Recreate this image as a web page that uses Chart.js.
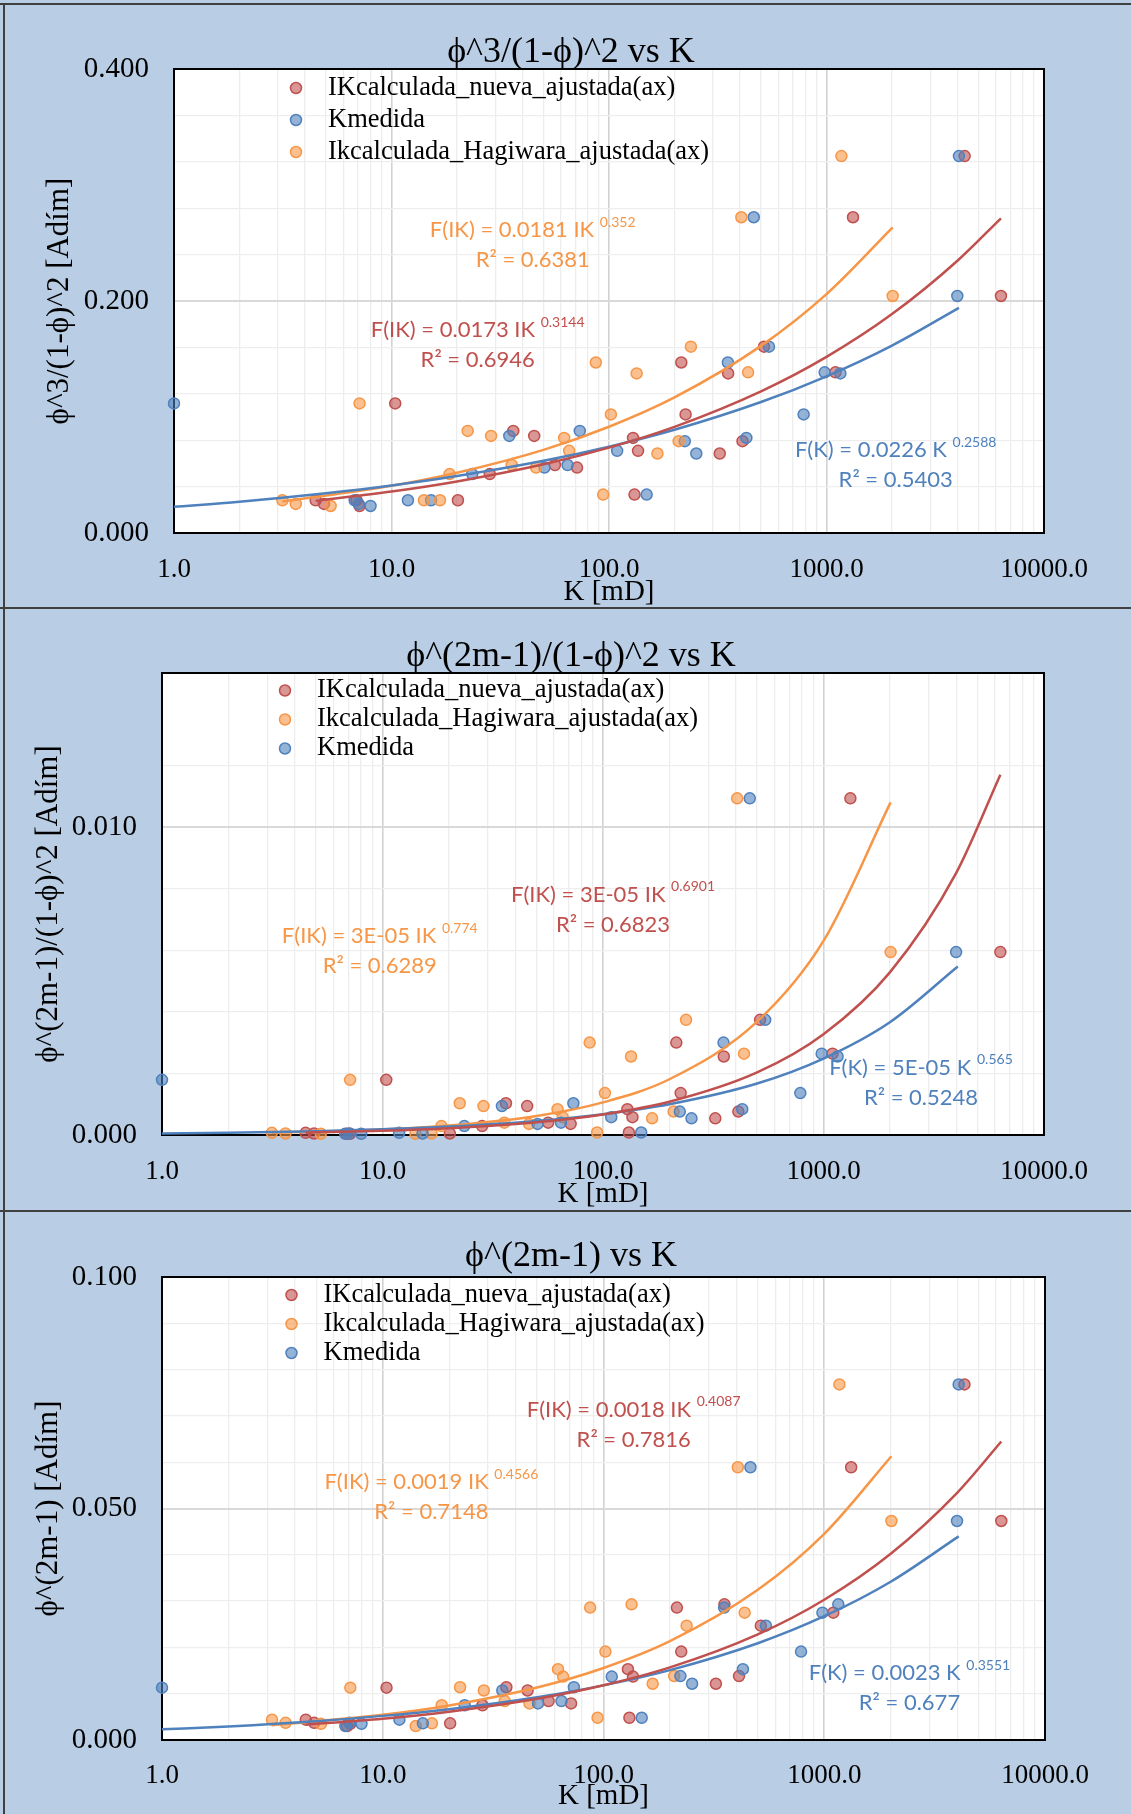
<!DOCTYPE html>
<html>
<head>
<meta charset="utf-8">
<script src="https://cdn.jsdelivr.net/npm/chart.js@4.4.1/dist/chart.umd.min.js"></script>
<style>
  html, body { margin: 0; padding: 0; background: #b9cde5; }
  #wrap { position: relative; width: 1131px; height: 1814px; overflow: hidden; }
  #wrap canvas { position: absolute; left: 0; }
  .rule { position: absolute; background: #404040; }
</style>
</head>
<body>
<div id="wrap">
  <canvas id="c1" width="1131" height="608" style="top:0"></canvas>
  <canvas id="c2" width="1131" height="603" style="top:608px"></canvas>
  <canvas id="c3" width="1131" height="603" style="top:1211px"></canvas>
  <div class="rule" style="left:0;top:3px;width:1131px;height:2px"></div>
  <div class="rule" style="left:0;top:607px;width:1131px;height:2px"></div>
  <div class="rule" style="left:0;top:1210px;width:1131px;height:2px"></div>
  <div class="rule" style="left:3px;top:3px;width:2px;height:1811px"></div>
</div>
<script>
// one entry per core sample; the three permeabilities share the same porosity term
const kNueva    = [4316, 1324, 6340, 516, 215, 1099, 353, 10.4, 225, 36.3, 45.3, 129, 411, 136, 323, 56.4, 71.3, 28.3, 131, 4.48, 20.2, 6.9, 4.89, 7.13];
const kMedida   = [4064, 463, 3994, 544, 352, 981, 1158, 1.0, 785, 73.4, 34.8, 428, 223, 109, 252, 64.5, 50.5, 23.5, 149, 11.9, 15.2, 6.77, 7.06, 8.01];
const kHagiwara = [1171, 406, 2015, 238, 87, 436, 134, 7.13, 102, 22.4, 28.7, 62.2, 209, 65.6, 167, 35.7, 46.2, 18.5, 94, 3.15, 16.7, 14.1, 3.63, 5.25];

const yPhi3      = [0.3249, 0.2722, 0.2043, 0.1606, 0.147, 0.1385, 0.1376, 0.1117, 0.1022, 0.088, 0.0837, 0.082, 0.0792, 0.0708, 0.0685, 0.0586, 0.0564, 0.0508, 0.0331, 0.0282, 0.0282, 0.0282, 0.0251, 0.0233];
const yPhi2mRatio = [null, 0.01093, 0.00594, 0.00374, 0.0030, 0.00264, 0.00255, 0.00179, 0.00136, 0.00103, 0.00094, 0.00084, 0.00076, 0.00058, 0.00054, 0.0004, 0.00036, 0.00029, 0.00008, 0.00007, 0.00005, 0.00004, 0.00005, 0.00004];
const yPhi2m      = [0.0768, 0.0589, 0.0473, 0.0247, 0.0286, 0.0275, 0.0293, 0.0113, 0.0191, 0.0114, 0.0107, 0.0153, 0.0138, 0.0137, 0.01215, 0.0084, 0.0079, 0.0075, 0.0048, 0.0044, 0.0036, 0.0030, 0.0037, 0.0035];

// power trendlines
const fitKNueva    = [4.48, 10, 20, 50, 100, 200, 500, 1000, 2000, 4000, 6340];
const fitKHagiwara = [3.15, 10, 20, 50, 100, 200, 500, 1000, 2015];
const fitKMedida   = [1, 2, 5, 10, 20, 50, 100, 200, 500, 1000, 2000, 4064];

const fit1Nueva    = [0.0277, 0.0357, 0.0444, 0.0592, 0.0736, 0.0915, 0.1221, 0.1518, 0.1887, 0.2347, 0.2713];
const fit1Hagiwara = [0.0271, 0.0407, 0.0520, 0.0717, 0.0916, 0.1169, 0.1613, 0.2059, 0.2635];
const fit1Medida   = [0.0226, 0.0270, 0.0343, 0.0410, 0.0491, 0.0622, 0.0744, 0.0890, 0.1129, 0.1351, 0.1616, 0.1941];

const fit2Nueva    = [0.0000785, 0.000136, 0.00022, 0.000414, 0.000668, 0.00108, 0.00203, 0.00327, 0.00528, 0.00851, 0.0117];
const fit2Hagiwara = [0.0000729, 0.000178, 0.000305, 0.00062, 0.00106, 0.00181, 0.00368, 0.0063, 0.0108];
const fit2Medida   = [0.00005, 0.000074, 0.000124, 0.000184, 0.000272, 0.000456, 0.000675, 0.000998, 0.00167, 0.00248, 0.00366, 0.00547];

const fit3Nueva    = [0.00332, 0.00461, 0.00612, 0.0089, 0.01182, 0.01569, 0.02282, 0.0303, 0.04022, 0.05339, 0.06446];
const fit3Hagiwara = [0.00321, 0.00544, 0.00746, 0.01134, 0.01556, 0.02135, 0.03244, 0.04452, 0.06129];
const fit3Medida   = [0.0023, 0.00294, 0.00407, 0.00521, 0.00666, 0.00923, 0.0118, 0.01509, 0.0209, 0.02673, 0.03419, 0.04398];

const seriesNames = {
  nueva: 'IKcalculada_nueva_ajustada(ax)',
  medida: 'Kmedida',
  hagiwara: 'Ikcalculada_Hagiwara_ajustada(ax)',
};
const xTitle = 'K [mD]';

const W = 1131;
const SERIF = "'Liberation Serif', 'Times New Roman', serif";
const SANS = "Lato, 'Open Sans', sans-serif";
const LINE = { nueva: '#c0504d', medida: '#4f81bd', hagiwara: '#f79646' };
const FILL = { nueva: 'rgba(192,80,77,0.6)', medida: 'rgba(79,129,189,0.6)', hagiwara: 'rgba(247,150,70,0.6)' };
const X_OF = { nueva: kNueva, medida: kMedida, hagiwara: kHagiwara };
const FITX_OF = { nueva: fitKNueva, medida: fitKMedida, hagiwara: fitKHagiwara };

function pts(xs, ys) {
  const out = [];
  xs.forEach((x, i) => { if (ys[i] != null) out.push({ x, y: ys[i] }); });
  return out;
}

function isMultiple(v, step) {
  const r = v / step;
  return Math.abs(r - Math.round(r)) < 1e-6;
}

function isDecade(v) {
  const l = Math.log10(v);
  return Math.abs(l - Math.round(l)) < 1e-9;
}

// white plot, black frame, title, legend and trendline equations
const panelDeco = {
  id: 'panelDeco',
  beforeDraw(chart, args, o) {
    const { ctx, chartArea: a } = chart;
    ctx.save();
    ctx.fillStyle = '#ffffff';
    ctx.fillRect(a.left, a.top, a.right - a.left, a.bottom - a.top);
    ctx.fillStyle = '#000';
    ctx.font = `36px ${SERIF}`;
    ctx.textAlign = 'center';
    ctx.textBaseline = 'middle';
    ctx.fillText(o.title, 571, o.titleY);
    ctx.restore();
  },
  beforeDatasetsDraw(chart) {
    const { ctx, chartArea: a } = chart;
    ctx.save();
    ctx.strokeStyle = '#000';
    ctx.lineWidth = 2;
    ctx.strokeRect(a.left, a.top, a.right - a.left, a.bottom - a.top);
    ctx.restore();
  },
  afterDatasetsDraw(chart, args, o) {
    const { ctx } = chart;
    const xs = chart.scales.x, ys = chart.scales.y;
    ctx.save();
    // legend
    o.legend.order.forEach((key, i) => {
      const y = o.legend.y + i * o.legend.dy;
      ctx.beginPath();
      ctx.arc(o.legend.x, y, 5.5, 0, Math.PI * 2);
      ctx.fillStyle = FILL[key];
      ctx.fill();
      ctx.lineWidth = 1.5;
      ctx.strokeStyle = LINE[key];
      ctx.stroke();
      ctx.fillStyle = '#000';
      ctx.font = `26.5px ${SERIF}`;
      ctx.textAlign = 'left';
      ctx.textBaseline = 'middle';
      ctx.fillText(seriesNames[key], o.legend.x + 32, y);
    });
    // equations
    o.fits.forEach(f => {
      const px = xs.getPixelForValue(f.at[0]);
      const py = ys.getPixelForValue(f.at[1]);
      ctx.fillStyle = LINE[f.key];
      ctx.textBaseline = 'middle';
      ctx.textAlign = 'left';
      ctx.font = `22px ${SANS}`;
      const w1 = ctx.measureText(f.eq + ' ').width;
      ctx.font = `14px ${SANS}`;
      const w2 = ctx.measureText(f.exp).width;
      const x0 = px - (w1 + w2) / 2;
      ctx.font = `22px ${SANS}`;
      ctx.fillText(f.eq + ' ', x0, py);
      ctx.font = `14px ${SANS}`;
      ctx.fillText(f.exp, x0 + w1, py - 8);
      ctx.font = `22px ${SANS}`;
      ctx.textAlign = 'center';
      ctx.fillText(f.r2, px, py + 30);
    });
    ctx.restore();
  }
};

function makePanel(id, cfg) {
  const H = cfg.height;
  const b = cfg.box;
  const datasets = [];
  // trendlines on top of the markers
  ['nueva', 'medida', 'hagiwara'].forEach((key, i) => {
    datasets.push({
      type: 'line',
      data: pts(FITX_OF[key], cfg.fit[key]),
      borderColor: LINE[key],
      borderWidth: 2.5,
      pointRadius: 0,
      fill: false,
      cubicInterpolationMode: 'monotone',
      order: i,
    });
  });
  // first legend entry is drawn first (lowest)
  cfg.legendOrder.forEach((key, i) => {
    datasets.push({
      type: 'scatter',
      label: seriesNames[key],
      data: pts(X_OF[key], cfg.y),
      backgroundColor: FILL[key],
      borderColor: LINE[key],
      borderWidth: 1.5,
      pointRadius: 5.5,
      pointHoverRadius: 5.5,
      clip: false,
      order: 10 - i,
    });
  });

  return new Chart(document.getElementById(id), {
    type: 'scatter',
    data: { datasets },
    options: {
      responsive: false,
      animation: false,
      devicePixelRatio: 1,
      layout: { padding: { top: b.top, right: W - b.right, left: 0, bottom: 0 } },
      plugins: {
        legend: { display: false },
        tooltip: { enabled: false },
        title: { display: false },
        panelDeco: {
          title: cfg.title,
          titleY: b.titleY,
          legend: { order: cfg.legendOrder, x: cfg.legendX, y: cfg.legendY, dy: cfg.legendDy },
          fits: cfg.labels,
        },
      },
      scales: {
        x: {
          type: 'logarithmic',
          min: 1,
          max: 10000,
          afterBuildTicks: (s) => {
            const t = [];
            for (let d = 1; d <= 10000; d *= 10) {
              for (let m = 1; m <= 9; m++) if (m * d <= 10000) t.push({ value: m * d });
            }
            s.ticks = t;
          },
          afterFit: (s) => { s.height = H - b.bottom; },
          border: { display: false },
          grid: {
            drawTicks: false,
            color: (c) => isDecade(c.tick.value) ? '#d2d2d2' : '#ededed',
            lineWidth: (c) => isDecade(c.tick.value) ? 1.6 : 1.3,
          },
          ticks: {
            autoSkip: false,
            maxRotation: 0,
            padding: b.xTickPad,
            color: '#000',
            font: { family: SERIF, size: 27 },
            callback: (v) => isDecade(v) ? Number(v).toFixed(1) : '',
          },
          title: {
            display: true,
            text: xTitle,
            color: '#000',
            font: { family: SERIF, size: 29, lineHeight: 1 },
            padding: { top: 0, bottom: b.xTitlePad },
          },
        },
        y: {
          min: 0,
          max: cfg.yMax,
          afterFit: (s) => { s.width = b.left; },
          border: { display: false },
          grid: {
            drawTicks: false,
            color: (c) => isMultiple(c.tick.value, cfg.yMajor) ? '#d9d9d9' : '#eeeeee',
            lineWidth: (c) => isMultiple(c.tick.value, cfg.yMajor) ? 2 : 1.3,
          },
          ticks: {
            stepSize: cfg.yStep,
            autoSkip: false,
            padding: 25,
            color: '#000',
            font: { family: SERIF, size: 29 },
            callback: (v) => isMultiple(v, cfg.yMajor) ? Number(v).toFixed(3) : '',
          },
          title: {
            display: true,
            text: cfg.yTitle,
            color: '#000',
            font: { family: SERIF, size: 31, lineHeight: 1 },
            padding: { top: b.yTitleX - 15.5, bottom: 0 },
          },
        },
      },
    },
    plugins: [panelDeco],
  });
}

makePanel('c1', {
  height: 608,
  title: 'ϕ^3/(1-ϕ)^2 vs K',
  yTitle: 'ϕ^3/(1-ϕ)^2 [Adím]',
  yMax: 0.4, yStep: 0.04, yMajor: 0.2,
  y: yPhi3,
  fit: { nueva: fit1Nueva, medida: fit1Medida, hagiwara: fit1Hagiwara },
  legendOrder: ['nueva', 'medida', 'hagiwara'],
  legendX: 296, legendY: 88, legendDy: 32,
  box: { left: 174, right: 1044, top: 69, bottom: 533, titleY: 53, xTickPad: 20.8, xTitlePad: 1.5, yTitleX: 60 },
  labels: [
    { key: 'hagiwara', at: [44.6, 0.261], eq: 'F(IK) = 0.0181 IK', exp: '0.352', r2: 'R² = 0.6381' },
    { key: 'nueva', at: [24.9, 0.175], eq: 'F(IK) = 0.0173 IK', exp: '0.3144', r2: 'R² = 0.6946' },
    { key: 'medida', at: [2080, 0.0714], eq: 'F(K) = 0.0226 K', exp: '0.2588', r2: 'R² = 0.5403' },
  ],
});

makePanel('c2', {
  height: 603,
  title: 'ϕ^(2m-1)/(1-ϕ)^2 vs K',
  yTitle: 'ϕ^(2m-1)/(1-ϕ)^2 [Adím]',
  yMax: 0.015, yStep: 0.002, yMajor: 0.01,
  y: yPhi2mRatio,
  fit: { nueva: fit2Nueva, medida: fit2Medida, hagiwara: fit2Hagiwara },
  legendOrder: ['nueva', 'hagiwara', 'medida'],
  legendX: 285, legendY: 82.5, legendDy: 29,
  box: { left: 162, right: 1044, top: 65, bottom: 527, titleY: 49, xTickPad: 20.8, xTitlePad: 2.5, yTitleX: 48.6 },
  labels: [
    { key: 'hagiwara', at: [9.72, 0.00645], eq: 'F(IK) = 3E-05 IK', exp: '0.774', r2: 'R² = 0.6289' },
    { key: 'nueva', at: [111, 0.00781], eq: 'F(IK) = 3E-05 IK', exp: '0.6901', r2: 'R² = 0.6823' },
    { key: 'medida', at: [2767, 0.00218], eq: 'F(K) = 5E-05 K', exp: '0.565', r2: 'R² = 0.5248' },
  ],
});

makePanel('c3', {
  height: 603,
  title: 'ϕ^(2m-1) vs K',
  yTitle: 'ϕ^(2m-1) [Adím]',
  yMax: 0.1, yStep: 0.01, yMajor: 0.05,
  y: yPhi2m,
  fit: { nueva: fit3Nueva, medida: fit3Medida, hagiwara: fit3Hagiwara },
  legendOrder: ['nueva', 'hagiwara', 'medida'],
  legendX: 291.5, legendY: 84, legendDy: 29,
  box: { left: 162, right: 1045, top: 66, bottom: 529, titleY: 45.5, xTickPad: 19.8, xTitlePad: 3, yTitleX: 48.6 },
  labels: [
    { key: 'nueva', at: [137, 0.0714], eq: 'F(IK) = 0.0018 IK', exp: '0.4087', r2: 'R² = 0.7816' },
    { key: 'hagiwara', at: [16.6, 0.0557], eq: 'F(IK) = 0.0019 IK', exp: '0.4566', r2: 'R² = 0.7148' },
    { key: 'medida', at: [2432, 0.01446], eq: 'F(K) = 0.0023 K', exp: '0.3551', r2: 'R² = 0.677' },
  ],
});
</script>
</body>
</html>
